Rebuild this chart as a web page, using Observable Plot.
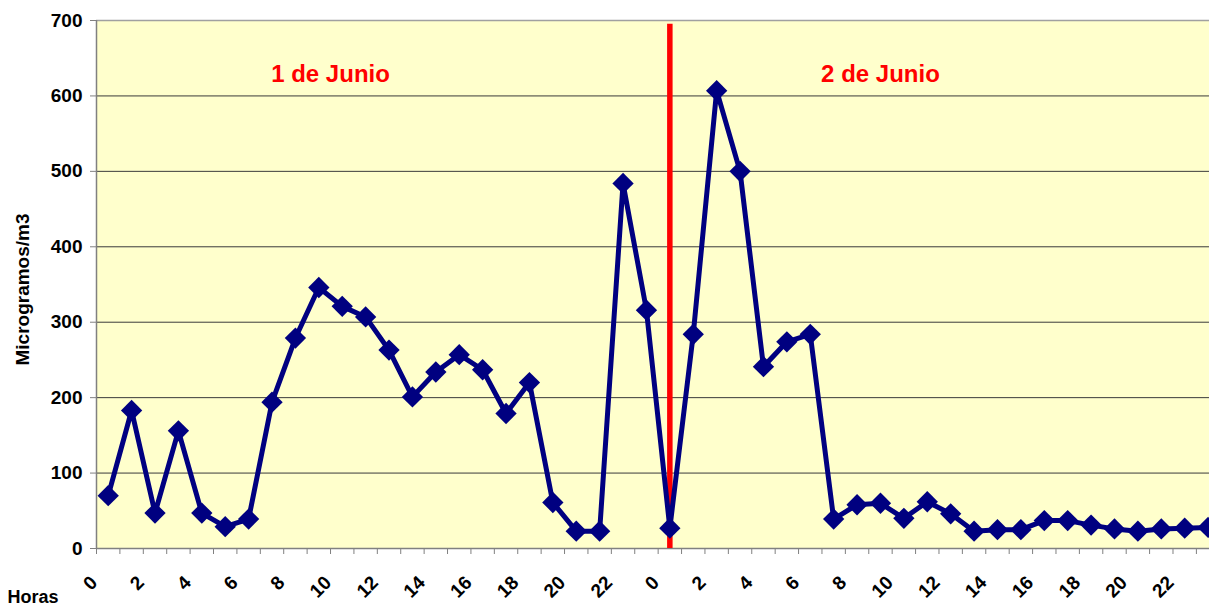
<!DOCTYPE html>
<html>
<head>
<meta charset="utf-8">
<script src="https://cdn.jsdelivr.net/npm/d3@7"></script>
<script src="https://cdn.jsdelivr.net/npm/@observablehq/plot@0.6"></script>
<style>
  html, body { margin: 0; padding: 0; background: #fff; overflow: hidden; }
  #chart svg { display: block; font-family: "Liberation Sans", Arial, sans-serif; }
</style>
</head>
<body>
<div id="chart"></div>
<script>
// Hourly values, 1 and 2 June (µg/m3)
const day1Values = [70,183,47,156,47,29,39,194,279,346,321,307,263,201,234,257,237,179,220,61,23,23,484,316];
const day2Values = [27,284,607,500,241,274,284,39,58,60,40,62,46,23,25,25,37,37,31,26,23,26,27,28];
const hours = d3.range(24);
const xTickHours = [0,2,4,6,8,10,12,14,16,18,20,22];
const yTicks = [0,100,200,300,400,500,600,700];
const dayLabels = ["1 de Junio", "2 de Junio"];
const dayLabelHour = [9.5, 33];
const dayBoundary = 24;

const data = [
  ...day1Values.map((v, h) => ({i: h, hour: h, v})),
  ...day2Values.map((v, h) => ({i: 24 + h, hour: h, v}))
];
const xTicks = [...xTickHours.map(h => ({i: h, label: String(h)})), ...xTickHours.map(h => ({i: 24 + h, label: String(h)}))];
const boundaries = d3.range(0, 48).map(k => k - 0.5);
const annotations = dayLabels.map((t, k) => ({x: dayLabelHour[k], t}));

const font = "Liberation Sans, Arial, sans-serif";

const chart = Plot.plot({
  width: 1209,
  height: 608,
  marginLeft: 96,
  marginRight: 0,
  marginTop: 20,
  marginBottom: 60,
  style: {fontFamily: font, background: "#fff", overflow: "hidden"},
  x: {type: "linear", domain: [-0.5, 47.06], axis: null},
  y: {domain: [0, 700], axis: null},
  marks: [
    Plot.frame({fill: "#FFFFCC", stroke: "none"}),
    Plot.ruleY(yTicks.filter(d => d > 0 && d < 700), {stroke: "#3a3a3a", strokeWidth: 1}),
    Plot.ruleY([700], {stroke: "#a0a0a0", strokeWidth: 1.5}),
    Plot.ruleY([0], {stroke: "#808080", strokeWidth: 1.5}),
    Plot.ruleX([-0.5], {stroke: "#808080", strokeWidth: 1.5}),
    Plot.axisY({ticks: yTicks, tickSize: 6, tickPadding: 8, stroke: "#808080", fontSize: 19, fontWeight: "bold", fill: "#000", label: null}),
    Plot.axisX({ticks: boundaries, tickSize: 6, tickFormat: () => "", stroke: "#808080", label: null}),
    Plot.text(xTicks, {x: "i", text: "label", frameAnchor: "bottom", rotate: -45, textAnchor: "end", lineAnchor: "middle", dx: -14, dy: 31, fontSize: 19, fontWeight: "bold", fill: "#000"}),
    Plot.ruleX([dayBoundary], {y1: 0, y2: 695, stroke: "#FF0000", strokeWidth: 5.5}),
    Plot.line(data, {x: "i", y: "v", stroke: "#000080", strokeWidth: 5, strokeLinejoin: "round"}),
    Plot.dot(data, {x: "i", y: "v", symbol: "diamond2", r: 9.6, fill: "#000080", stroke: "none"}),
    Plot.text(annotations, {x: "x", y: 618, text: "t", fill: "#FF0000", fontSize: 24, fontWeight: "bold", lineAnchor: "bottom", textAnchor: "middle"}),
    Plot.text(["Microgramos/m3"], {frameAnchor: "left", rotate: -90, dx: -74, dy: 5, fontSize: 19, fontWeight: "bold", fill: "#000", textAnchor: "middle", lineAnchor: "middle"}),
    Plot.text(["Horas"], {frameAnchor: "bottom-left", dx: -89, dy: 49, fontSize: 18, fontWeight: "bold", fill: "#000", textAnchor: "start", lineAnchor: "middle"})
  ]
});
document.getElementById("chart").appendChild(chart);
</script>
</body>
</html>
